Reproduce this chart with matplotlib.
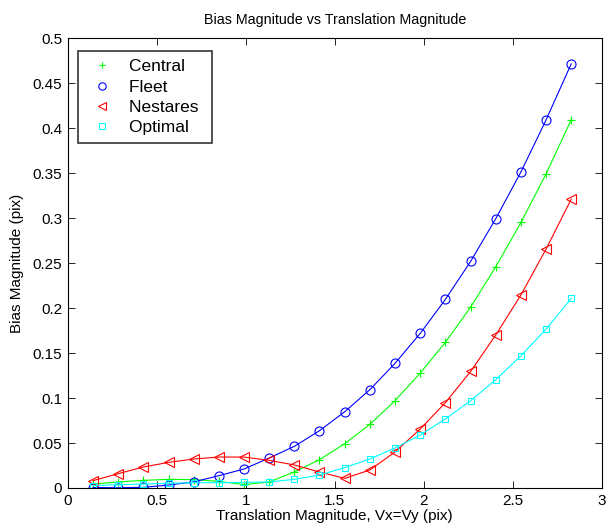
import numpy as np
import matplotlib
matplotlib.use('Agg')
import matplotlib.pyplot as plt
from matplotlib.lines import Line2D

plt.rcParams['font.family'] = ['Liberation Sans', 'DejaVu Sans']

# translation magnitude sqrt(2)*0.1*k
trans = [0.141, 0.283, 0.424, 0.566, 0.707, 0.849, 0.990, 1.131, 1.273, 1.414,
         1.556, 1.697, 1.838, 1.980, 2.121, 2.263, 2.404, 2.546, 2.687, 2.828]

central = [0.0044, 0.0067, 0.0085, 0.0096, 0.0093, 0.0074, 0.0037, 0.0067, 0.0178, 0.0315,
           0.0493, 0.0707, 0.0970, 0.1278, 0.1619, 0.2011, 0.2459, 0.2952, 0.3493, 0.4093]
fleet = [0.0005, 0.0003, 0.0007, 0.0033, 0.0067, 0.0137, 0.0211, 0.0333, 0.0463, 0.0637,
         0.0848, 0.1093, 0.1385, 0.1719, 0.2096, 0.2519, 0.2993, 0.3515, 0.4093, 0.4715]
nestares = [0.0081, 0.0159, 0.0233, 0.0285, 0.0322, 0.0344, 0.0344, 0.0307, 0.0256, 0.0178,
            0.0107, 0.0200, 0.0400, 0.0656, 0.0948, 0.1296, 0.1700, 0.2148, 0.2656, 0.3211]
optimal = [0.0026, 0.0037, 0.0044, 0.0052, 0.0059, 0.0059, 0.0063, 0.0067, 0.0096, 0.0144,
           0.0226, 0.0322, 0.0444, 0.0589, 0.0767, 0.0970, 0.1204, 0.1470, 0.1767, 0.2107]

series = [('Central', central, (0, 1, 0), '+', 6),
          ('Fleet', fleet, (0, 0, 1), 'o', 6.5),
          ('Nestares', nestares, (1, 0, 0), '<', 6.5),
          ('Optimal', optimal, (0, 1, 1), 's', 5)]

fig = plt.figure(figsize=(6.16, 5.31), dpi=100)
ax = fig.add_axes([0.110, 0.081, 0.867, 0.847])

handles = []
for name, y, c, m, ms in series:
    ax.plot(trans, y, color=c, lw=0.8)
    ax.plot(trans, y, linestyle='none', marker=m, ms=ms, mfc='none', mec=c, mew=0.8)
    handles.append(Line2D([], [], linestyle='none', marker=m, ms=ms - 1.2,
                          mfc='none', mec=c, mew=0.8, label=name + ' '))

ax.set_xlim(0, 3)
ax.set_ylim(0, 0.5)
ax.set_xticks(np.arange(0, 3.01, 0.5))
ax.set_xticklabels(['0', '0.5', '1', '1.5', '2', '2.5', '3'])
ax.set_yticks(np.arange(0, 0.501, 0.05))
ax.set_yticklabels(['0', '0.05', '0.1', '0.15', '0.2', '0.25', '0.3', '0.35', '0.4', '0.45', '0.5'])
ax.tick_params(direction='in', top=True, right=True, length=5, width=0.6, labelsize=11, pad=4)
for s in ax.spines.values():
    s.set_linewidth(0.8)

ax.set_title('Bias Magnitude vs Translation Magnitude', fontsize=10.3, pad=10)
ax.set_xlabel('Translation Magnitude, Vx=Vy (pix)', fontsize=11, labelpad=1)
ax.set_ylabel('Bias Magnitude (pix)', fontsize=11, labelpad=6)

leg = ax.legend(handles=handles, loc='upper left', bbox_to_anchor=(0.0187, 0.971),
                fontsize=12.5, frameon=True, fancybox=False, edgecolor='black',
                handlelength=1.95, handletextpad=0.58, borderpad=0.45, labelspacing=0.3,
                borderaxespad=0)
leg.get_frame().set_linewidth(1.2)

fig.savefig('out.png', dpi=100)
